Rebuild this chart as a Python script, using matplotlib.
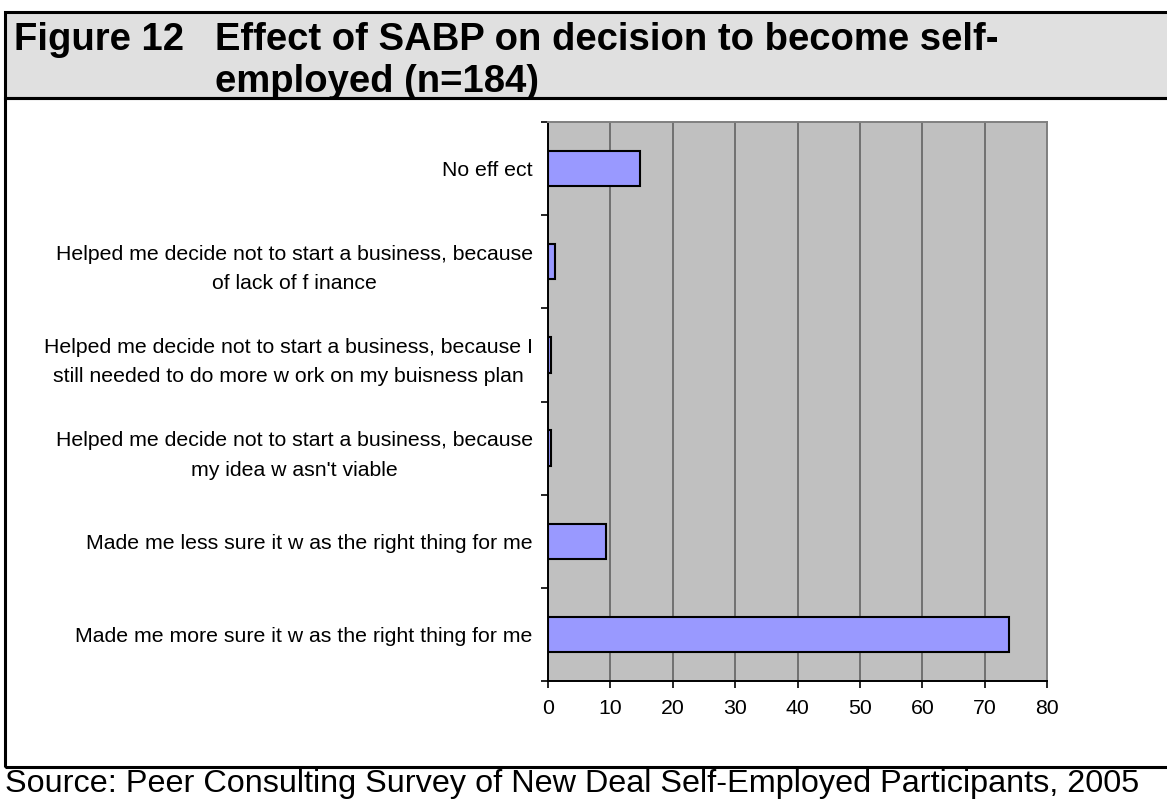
import matplotlib
matplotlib.use("Agg")
import matplotlib.pyplot as plt
from matplotlib.patches import Rectangle
from matplotlib.ticker import FixedLocator

plt.rcParams['font.family'] = ['Liberation Sans', 'DejaVu Sans']

# Survey responses (per cent of n=184), listed bottom to top
categories = [
    "Made me more sure it w as the right thing for me",
    "Made me less sure it w as the right thing for me",
    "Helped me decide not to start a business, because\nmy idea w asn't viable",
    "Helped me decide not to start a business, because I\nstill needed to do more w ork on my buisness plan",
    "Helped me decide not to start a business, because\nof lack of f inance",
    "No eff ect",
]
percent = [73.91, 9.24, 0.54, 0.54, 1.09, 14.67]
x_ticks = [0, 10, 20, 30, 40, 50, 60, 70, 80]

title_number = "Figure 12"
title_lines = ["Effect of SABP on decision to become self-", "employed (n=184)"]
source_text = "Source: Peer Consulting Survey of New Deal Self-Employed Participants, 2005"

W, H = 1167, 801
fig = plt.figure(figsize=(W / 100, H / 100), dpi=100)


def fx(px):
    return px / W


def fy(py):
    return 1 - py / H


# Title band and frame
fig.patches.append(Rectangle((fx(5), fy(98)), fx(1200 - 5), fy(12) - fy(98),
                             transform=fig.transFigure, facecolor="#e0e0e0",
                             edgecolor="black", linewidth=2.2))
fig.patches.append(Rectangle((fx(5), fy(767)), fx(1200 - 5), fy(98) - fy(767),
                             transform=fig.transFigure, facecolor="none",
                             edgecolor="black", linewidth=2.2))

fig.text(fx(14), fy(40), title_number, fontsize=27.5, fontweight="bold",
         ha="left", va="center")
for i, line in enumerate(title_lines):
    fig.text(fx(215), fy(40 + 42 * i), line, fontsize=27.5, fontweight="bold",
             ha="left", va="center")
fig.text(fx(5), fy(784), source_text, fontsize=23.3, ha="left", va="center")

# Plot area
left, right, top, bottom = 548, 1047, 122, 681
ax = fig.add_axes([fx(left), fy(bottom), fx(right - left), fy(top) - fy(bottom)])
ax.set_facecolor("#c0c0c0")

ypos = list(range(len(categories)))
ax.barh(ypos, percent, height=0.38, color="#9999ff", edgecolor="black",
        linewidth=1.5, zorder=3)

ax.set_xlim(0, 80)
ax.set_ylim(-0.5, len(categories) - 0.5)
ax.set_xticks(x_ticks)
ax.set_xticklabels([str(t) for t in x_ticks], fontsize=15.3)
ax.xaxis.grid(True, color="#707070", linewidth=1.4, zorder=1)
ax.set_axisbelow(True)

# Category boundaries carry the tick marks; labels sit at bar centres
ax.yaxis.set_major_locator(FixedLocator([i - 0.5 for i in range(len(categories) + 1)]))
ax.yaxis.set_major_formatter(plt.NullFormatter())
ax.yaxis.set_minor_locator(FixedLocator(ypos))
ax.set_yticklabels(categories, minor=True, fontsize=15.3, ha="right",
                   multialignment="center", linespacing=1.7)
ax.tick_params(axis="y", which="major", length=5, width=1.2, direction="out")
ax.tick_params(axis="y", which="minor", length=0, pad=11)
ax.tick_params(axis="x", length=5, width=1.2, direction="out", pad=8)

for side in ("left", "bottom"):
    ax.spines[side].set_color("black")
    ax.spines[side].set_linewidth(1.4)
for side in ("top", "right"):
    ax.spines[side].set_color("#808080")
    ax.spines[side].set_linewidth(1.4)

fig.savefig("out.png", dpi=100)
